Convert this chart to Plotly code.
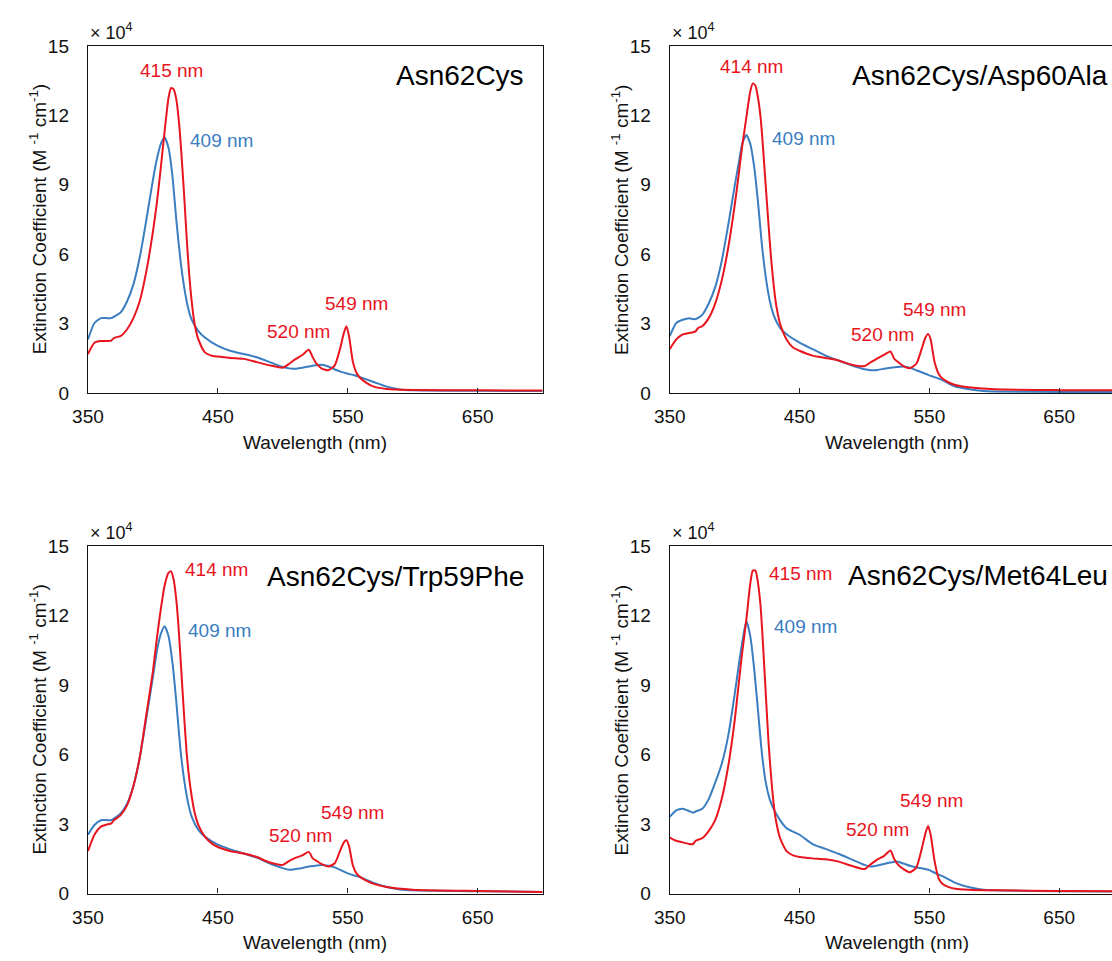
import plotly.graph_objects as go

# ---------------------------------------------------------------- data
# wavelengths (nm) sampled for the oxidised (blue) and reduced (red) spectra
wl_blue = [350, 355, 360, 365, 368, 370, 375, 380, 385, 390, 395, 400, 403, 406, 409,
           412, 415, 418, 421, 424, 427, 430, 435, 440, 450, 460, 470, 480, 490, 500,
           505, 510, 515, 520, 525, 530, 535, 540, 545, 550, 555, 560, 570, 580, 590,
           600, 650, 700]
wl_red = [350, 355, 360, 365, 368, 370, 372, 375, 380, 385, 390, 395, 400, 403, 406,
          409, 412, 414, 416, 418, 420, 422, 424, 426, 428, 430, 432, 435, 440, 445,
          450, 460, 470, 480, 490, 500, 505, 510, 515, 520, 523, 526, 530, 535, 540,
          544, 547, 549, 551, 554, 557, 560, 565, 570, 580, 600, 650, 700]

# extinction coefficients, units of 10^4 M^-1 cm^-1
n62c_blue = [2.32, 3.03, 3.24, 3.24, 3.24, 3.30, 3.48, 3.95, 4.70, 5.90, 7.50, 9.20, 10.10, 10.75, 11.05,
             10.60, 9.40, 7.50, 5.85, 4.60, 3.70, 3.15, 2.68, 2.40, 2.04, 1.82, 1.69, 1.55, 1.34, 1.13,
             1.07, 1.05, 1.10, 1.15, 1.20, 1.23, 1.15, 1.02, 0.92, 0.84, 0.77, 0.68, 0.48, 0.28, 0.16,
             0.12, 0.10, 0.09]
n62c_red = [1.69, 2.18, 2.25, 2.25, 2.27, 2.38, 2.42, 2.46, 2.75, 3.24, 4.00, 5.28, 6.97, 8.20, 9.70,
            11.30, 12.75, 13.18, 13.12, 12.70, 11.75, 10.30, 8.60, 6.70, 5.10, 3.90, 3.03, 2.32, 1.76, 1.62,
            1.58, 1.52, 1.48, 1.34, 1.20, 1.10, 1.27, 1.48, 1.65, 1.87, 1.55, 1.27, 1.06, 0.99, 1.20,
            1.90, 2.60, 2.89, 2.46, 1.34, 0.85, 0.63, 0.42, 0.28, 0.18, 0.14, 0.12, 0.11]

d60a_blue = [2.46, 3.03, 3.17, 3.24, 3.20, 3.20, 3.38, 3.87, 4.58, 5.70, 7.25, 8.94, 9.90, 10.80, 11.15,
             10.77, 9.80, 8.24, 6.40, 5.00, 4.00, 3.38, 2.82, 2.54, 2.18, 1.90, 1.62, 1.41, 1.20, 1.03,
             0.99, 1.00, 1.05, 1.10, 1.13, 1.15, 1.10, 0.99, 0.88, 0.77, 0.67, 0.56, 0.28, 0.18, 0.10,
             0.07, 0.05, 0.05]
d60a_red = [1.90, 2.32, 2.54, 2.60, 2.63, 2.68, 2.82, 2.89, 3.24, 3.87, 4.86, 6.27, 8.10, 9.40, 10.75,
            11.90, 13.03, 13.38, 13.28, 12.75, 11.90, 10.50, 8.90, 7.35, 5.85, 4.70, 3.80, 3.00, 2.32, 1.97,
            1.83, 1.62, 1.52, 1.41, 1.23, 1.17, 1.34, 1.50, 1.65, 1.80, 1.48, 1.34, 1.17, 1.08, 1.27,
            1.90, 2.40, 2.56, 2.32, 1.34, 0.85, 0.63, 0.46, 0.35, 0.25, 0.17, 0.13, 0.12]

w59f_blue = [2.54, 2.96, 3.17, 3.17, 3.17, 3.24, 3.45, 3.87, 4.65, 5.90, 7.60, 9.35, 10.45, 11.20, 11.55,
             11.13, 10.00, 8.30, 6.34, 4.93, 3.94, 3.30, 2.75, 2.46, 2.11, 1.90, 1.73, 1.55, 1.30, 1.10,
             1.03, 1.06, 1.10, 1.17, 1.20, 1.23, 1.20, 1.13, 1.00, 0.87, 0.78, 0.70, 0.46, 0.28, 0.18,
             0.14, 0.10, 0.07]
w59f_red = [1.83, 2.54, 2.89, 2.99, 3.03, 3.17, 3.25, 3.38, 3.80, 4.65, 5.92, 7.75, 9.60, 11.00, 12.25,
            13.30, 13.85, 13.92, 13.55, 12.70, 11.30, 9.50, 7.70, 6.06, 4.95, 4.15, 3.52, 2.96, 2.46, 2.18,
            2.01, 1.83, 1.73, 1.58, 1.34, 1.24, 1.41, 1.55, 1.65, 1.80, 1.52, 1.41, 1.27, 1.17, 1.31,
            1.83, 2.21, 2.30, 2.04, 1.20, 0.85, 0.70, 0.54, 0.42, 0.28, 0.17, 0.11, 0.07]

m64l_blue = [3.31, 3.59, 3.66, 3.56, 3.49, 3.55, 3.66, 4.08, 4.79, 5.60, 6.80, 8.60, 9.80, 10.90, 11.76,
             11.13, 9.72, 7.89, 6.06, 4.79, 4.08, 3.66, 3.17, 2.82, 2.54, 2.14, 1.93, 1.72, 1.48, 1.24,
             1.17, 1.21, 1.28, 1.34, 1.38, 1.30, 1.20, 1.13, 1.08, 1.01, 0.87, 0.75, 0.46, 0.28, 0.18,
             0.14, 0.10, 0.08]
m64l_red = [2.42, 2.28, 2.21, 2.14, 2.14, 2.28, 2.33, 2.39, 2.70, 3.17, 4.08, 5.49, 7.46, 9.00, 10.50,
            11.83, 13.38, 13.95, 13.95, 13.40, 12.39, 10.60, 8.60, 6.62, 5.10, 3.90, 3.10, 2.39, 1.83, 1.65,
            1.58, 1.52, 1.48, 1.38, 1.20, 1.06, 1.27, 1.48, 1.62, 1.86, 1.48, 1.24, 1.06, 0.92, 1.13,
            1.90, 2.61, 2.92, 2.54, 1.41, 0.68, 0.42, 0.28, 0.21, 0.17, 0.14, 0.11, 0.10]

panel_names = ["Asn62Cys", "Asn62Cys/Asp60Ala", "Asn62Cys/Trp59Phe", "Asn62Cys/Met64Leu"]
blue_series = [n62c_blue, d60a_blue, w59f_blue, m64l_blue]
red_series = [n62c_red, d60a_red, w59f_red, m64l_red]

# peak labels: text, wavelength / value position of the label, colour key
peak_labels = [
    [("415 nm", 414.0, 13.94, "red"), ("409 nm", 452.6, 10.9, "blue"),
     ("520 nm", 511.8, 2.68, "red"), ("549 nm", 556.6, 3.87, "red")],
    [("414 nm", 412.8, 14.1, "red"), ("409 nm", 453.1, 11.0, "blue"),
     ("520 nm", 513.6, 2.54, "red"), ("549 nm", 553.9, 3.62, "red")],
    [("414 nm", 448.8, 14.0, "red"), ("409 nm", 451.5, 11.38, "blue"),
     ("520 nm", 513.4, 2.49, "red"), ("549 nm", 553.9, 3.52, "red")],
    [("415 nm", 451.0, 13.83, "red"), ("409 nm", 454.4, 11.55, "blue"),
     ("520 nm", 509.7, 2.75, "red"), ("549 nm", 551.6, 4.04, "red")],
]
name_pos = [(686.9, 13.73), (689.5, 13.73), (686.9, 13.70), (689.5, 13.73)]

x_ticks = [350, 450, 550, 650]
y_ticks = [0, 3, 6, 9, 12, 15]

# ---------------------------------------------------------------- layout geometry (pixels)
W, H = 1112, 961
BLUE = "#3A7DC0"
RED = "#E8141E"
COLORS = {"blue": BLUE, "red": RED}
FONT = "Liberation Sans, Arial, sans-serif"
TXT = 19

# plot-area boxes: left, right (px), top, bottom (px), x-range
boxes = [
    (73.0, 534.3, 36.7, 391.7, [350, 700]),
    (663.3, 1112.0, 36.7, 391.7, [350, 690.7]),
    (73.0, 534.3, 548.3, 903.3, [350, 700]),
    (663.3, 1112.0, 548.3, 903.3, [350, 690.7]),
]

fig = go.Figure()
layout = dict(
    width=W, height=H, autosize=False,
    margin=dict(l=0, r=0, t=0, b=0),
    paper_bgcolor="white", plot_bgcolor="white",
    showlegend=False,
    font=dict(family=FONT, size=TXT, color="#111111"),
    annotations=[],
)

for i in range(4):
    k = "" if i == 0 else str(i + 1)
    left, right, top, bottom, xr = boxes[i]
    clipped = right >= W
    xd = [left / W, right / W]
    yd = [1 - bottom / H, 1 - top / H]

    fig.add_trace(go.Scatter(
        x=wl_blue, y=blue_series[i], mode="lines",
        line=dict(color=BLUE, width=2, shape="spline", smoothing=0.6),
        xaxis="x" + k, yaxis="y" + k, hoverinfo="x+y"))
    fig.add_trace(go.Scatter(
        x=wl_red, y=red_series[i], mode="lines",
        line=dict(color=RED, width=2, shape="spline", smoothing=0.6),
        xaxis="x" + k, yaxis="y" + k, hoverinfo="x+y"))

    layout["xaxis" + k] = dict(
        domain=xd, range=xr, anchor="y" + k,
        tickmode="array", tickvals=x_ticks, ticktext=[str(v) for v in x_ticks],
        ticks="inside", ticklen=5, tickwidth=1, tickcolor="#222222",
        showline=True, linecolor="#111111", linewidth=1.3, mirror=True,
        showgrid=False, zeroline=False,
        tickfont=dict(size=TXT, color="#111111"), ticklabelstandoff=6,
    )
    layout["yaxis" + k] = dict(
        domain=yd, range=[0, 15], anchor="x" + k,
        tickmode="array", tickvals=y_ticks, ticktext=[str(v) for v in y_ticks],
        ticks="",
        showline=True, linecolor="#111111", linewidth=1.3, mirror=not clipped,
        showgrid=False, zeroline=False,
        tickfont=dict(size=TXT, color="#111111"), ticklabelstandoff=14,
    )

    ann = layout["annotations"]
    # panel name
    ann.append(dict(text=panel_names[i], x=name_pos[i][0], y=name_pos[i][1],
                    xref="x" + k, yref="y" + k, xanchor="right", yanchor="middle",
                    showarrow=False, font=dict(size=28, color="#000000")))
    # peak wavelengths
    for txt, lx, ly, c in peak_labels[i]:
        ann.append(dict(text=txt, x=lx, y=ly, xref="x" + k, yref="y" + k,
                        xanchor="center", yanchor="middle", showarrow=False,
                        font=dict(size=TXT, color=COLORS[c])))
    # exponent marker above the value axis
    ann.append(dict(text="× 10<sup>4</sup>", x=left / W, y=1 - (top - 15) / H,
                    xref="paper", yref="paper", xanchor="left", yanchor="middle",
                    showarrow=False, font=dict(size=18, color="#111111")))
    # axis titles
    ann.append(dict(text="Wavelength (nm)", x=525, y=1 - (bottom + 50) / H,
                    xref="x" + k, yref="paper",
                    xanchor="center", yanchor="middle", showarrow=False,
                    font=dict(size=TXT, color="#111111")))
    ann.append(dict(text="Extinction Coefficient (M <sup>-1</sup> cm<sup>-1</sup>)",
                    x=(left - 51) / W, y=1 - (top + bottom) / 2 / H,
                    xref="paper", yref="paper", xanchor="center", yanchor="middle",
                    textangle=-90, showarrow=False,
                    font=dict(size=TXT, color="#111111")))

fig.update_layout(**layout)
fig.write_html("out.html")
